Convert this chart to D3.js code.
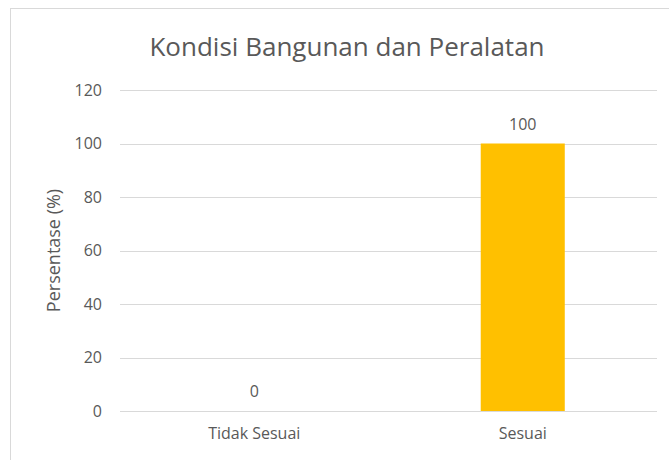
<!DOCTYPE html>
<html>
<head>
<meta charset="utf-8">
<script src="https://cdn.jsdelivr.net/npm/d3@7"></script>
<style>
  body { margin: 0; background: #fff; }
  text { font-family: "Open Sans", "Liberation Sans", sans-serif; fill: #595959; }
</style>
</head>
<body>
<svg></svg>
<script>
// chart data
const categories = ["Tidak Sesuai", "Sesuai"];
const values = [0, 100];
const yTicks = [0, 20, 40, 60, 80, 100, 120];

const width = 669, height = 460;
const margin = { top: 90, bottom: 49, left: 120, right: 12 };

const svg = d3.select("svg")
    .attr("width", width)
    .attr("height", height);

// chart border
svg.append("rect")
    .attr("x", 10.5).attr("y", 8.5)
    .attr("width", width).attr("height", height)
    .attr("fill", "none")
    .attr("stroke", "#d9d9d9");

const x = d3.scaleBand().domain(categories).range([margin.left, width - margin.right]);
const y = d3.scaleLinear().domain([0, 120]).range([height - margin.bottom, margin.top]);

// gridlines
svg.append("g")
  .selectAll("line")
  .data(yTicks)
  .join("line")
    .attr("x1", margin.left).attr("x2", width - margin.right)
    .attr("y1", d => Math.round(y(d)) + 0.5).attr("y2", d => Math.round(y(d)) + 0.5)
    .attr("stroke", "#d9d9d9")
    .attr("stroke-width", 1);

// y axis labels
const yAxis = svg.append("g")
    .attr("transform", `translate(${margin.left},0)`)
    .call(d3.axisLeft(y).tickValues(yTicks).tickSize(0).tickPadding(18));
yAxis.select(".domain").remove();
yAxis.selectAll("text").style("font-size", "16px").attr("fill", "#595959");

// x axis labels
const xAxis = svg.append("g")
    .attr("transform", `translate(0,${y(0)})`)
    .call(d3.axisBottom(x).tickSize(0).tickPadding(17));
xAxis.select(".domain").remove();
xAxis.selectAll("text").style("font-size", "16px").attr("fill", "#595959");

// bars
const barW = x.bandwidth() * 0.313;
svg.append("g")
  .selectAll("rect")
  .data(values)
  .join("rect")
    .attr("x", (d, i) => x(categories[i]) + x.bandwidth() / 2 - barW / 2)
    .attr("y", d => y(d))
    .attr("width", barW)
    .attr("height", d => y(0) - y(d))
    .attr("fill", "#ffc000");

// data labels
svg.append("g")
  .selectAll("text")
  .data(values)
  .join("text")
    .attr("x", (d, i) => x(categories[i]) + x.bandwidth() / 2)
    .attr("y", d => y(d) - 14)
    .attr("text-anchor", "middle")
    .style("font-size", "16px")
    .text(d => d);

// title
svg.append("text")
    .attr("x", 347).attr("y", 56)
    .attr("text-anchor", "middle")
    .style("font-size", "26px")
    .text("Kondisi Bangunan dan Peralatan");

// y axis title
svg.append("text")
    .attr("transform", `translate(60,${(y(0) + y(120)) / 2}) rotate(-90)`)
    .attr("text-anchor", "middle")
    .style("font-size", "18px")
    .text("Persentase (%)");
</script>
</body>
</html>
